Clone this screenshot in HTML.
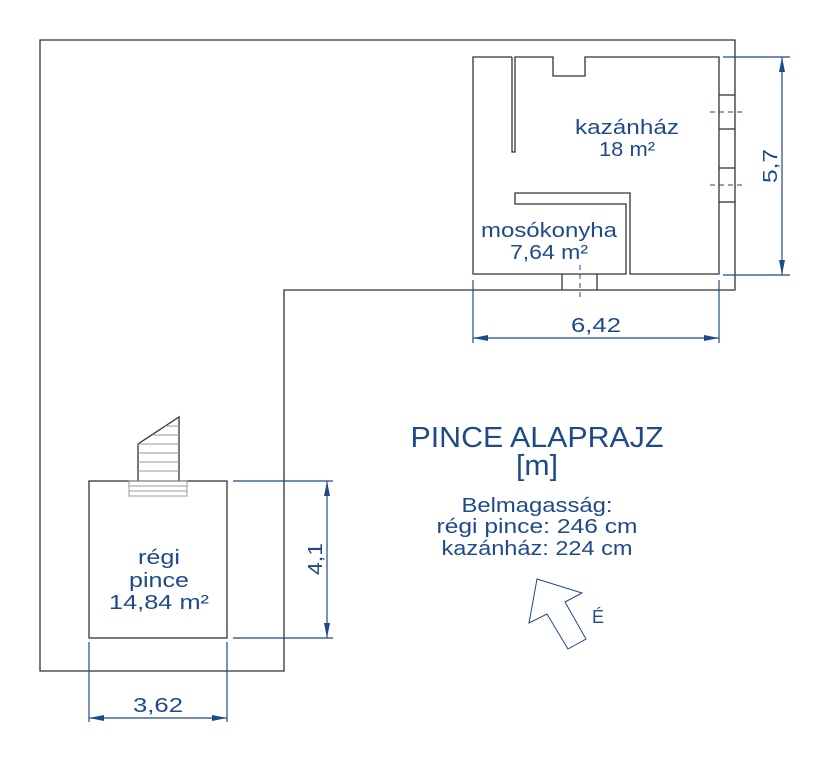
<!DOCTYPE html>
<html><head><meta charset="utf-8"><style>html,body{margin:0;padding:0;background:#fff}svg{display:block}text{font-family:"Liberation Sans",sans-serif;fill:#1f4a8a}</style></head><body>
<svg width="815" height="766" viewBox="0 0 815 766" xmlns="http://www.w3.org/2000/svg">
<g fill="none" stroke="#333" stroke-width="1.3">
<polygon points="40,40 735,40 735,290 284,290 284,671 40,671" fill="#fff"/>
<polyline points="512,57 473,57 473,274 626,274 626,204 515,204 515,193 630,193 630,274 719,274 719,57 585,57 585,76 553,76 553,57 515,57 515,152 512,152 512,57"/>
<line x1="719" y1="95" x2="735" y2="95"/><line x1="719" y1="129" x2="735" y2="129"/>
<line x1="719" y1="168" x2="735" y2="168"/><line x1="719" y1="202" x2="735" y2="202"/>
<line x1="562" y1="274" x2="562" y2="290"/><line x1="597" y1="274" x2="597" y2="290"/>
<rect x="89" y="481" width="138" height="157" fill="#fff"/>
<polyline points="138,481 138,444 179,417 179,481"/>
</g>
<g stroke="#999" stroke-width="1" fill="none">
<line x1="152" y1="435" x2="179" y2="435"/><line x1="138" y1="444" x2="179" y2="444"/>
<line x1="138" y1="453" x2="179" y2="453"/><line x1="138" y1="462" x2="179" y2="462"/><line x1="138" y1="471" x2="179" y2="471"/>
<line x1="165" y1="426" x2="179" y2="426"/>
<rect x="129" y="481" width="58" height="15"/><line x1="129" y1="486" x2="187" y2="486"/><line x1="129" y1="491" x2="187" y2="491"/>
</g>
<g stroke="#1f4a8a" stroke-width="1" stroke-dasharray="5,4" fill="none">
<line x1="710" y1="112" x2="746" y2="112"/><line x1="710" y1="185" x2="746" y2="185"/>
<line x1="580" y1="265" x2="580" y2="300"/>
</g>
<g stroke="#1f4a8a" stroke-width="1.2" fill="none">
<line x1="723" y1="57" x2="790" y2="57"/><line x1="723" y1="275" x2="790" y2="275"/><line x1="782" y1="57" x2="782" y2="275"/>
<line x1="473" y1="280" x2="473" y2="343"/><line x1="719" y1="280" x2="719" y2="343"/><line x1="473" y1="338" x2="719" y2="338"/>
<line x1="233" y1="481" x2="333" y2="481"/><line x1="233" y1="638" x2="333" y2="638"/><line x1="327" y1="481" x2="327" y2="638"/>
<line x1="89" y1="642" x2="89" y2="722"/><line x1="227" y1="642" x2="227" y2="722"/><line x1="89" y1="718" x2="227" y2="718"/>
<polygon points="537,579 582,593 565,602 586,639 568,649 547,614 529,623" stroke-width="1"/>
</g>
<g fill="#1f4a8a">
<polygon points="782,57 779,72 785,72"/><polygon points="782,275 779,260 785,260"/>
<polygon points="473,338 488,335 488,341"/><polygon points="719,338 704,335 704,341"/>
<polygon points="327,481 324,496 330,496"/><polygon points="327,638 324,623 330,623"/>
<polygon points="89,718 104,715 104,721"/><polygon points="227,718 212,715 212,721"/>
</g>
<g font-size="20" text-anchor="middle">
<text x="627" y="134" textLength="104" lengthAdjust="spacingAndGlyphs">kazánház</text><text x="627" y="156" textLength="56" lengthAdjust="spacingAndGlyphs">18 m²</text>
<text x="549" y="237" textLength="136" lengthAdjust="spacingAndGlyphs">mosókonyha</text><text x="549" y="259" textLength="78" lengthAdjust="spacingAndGlyphs">7,64 m²</text>
<text x="159" y="564" textLength="42" lengthAdjust="spacingAndGlyphs">régi</text><text x="159" y="587" textLength="60" lengthAdjust="spacingAndGlyphs">pince</text><text x="159" y="609" textLength="100" lengthAdjust="spacingAndGlyphs">14,84 m²</text>
<text x="596" y="332" textLength="50" lengthAdjust="spacingAndGlyphs">6,42</text><text x="158" y="712" textLength="50" lengthAdjust="spacingAndGlyphs">3,62</text>
<text transform="translate(777,166) rotate(-90)" textLength="34" lengthAdjust="spacingAndGlyphs">5,7</text>
<text transform="translate(322,559) rotate(-90)" textLength="32" lengthAdjust="spacingAndGlyphs">4,1</text>
<text x="598" y="623" font-size="18">É</text>
<text x="537" y="447" font-size="29" textLength="253" lengthAdjust="spacingAndGlyphs">PINCE ALAPRAJZ</text>
<text x="537" y="475" font-size="29" textLength="42" lengthAdjust="spacingAndGlyphs">[m]</text>
<text x="537" y="512" textLength="151" lengthAdjust="spacingAndGlyphs">Belmagasság:</text>
<text x="537" y="533" textLength="201" lengthAdjust="spacingAndGlyphs">régi pince: 246 cm</text>
<text x="537" y="555" textLength="191" lengthAdjust="spacingAndGlyphs">kazánház: 224 cm</text>
</g>
</svg>
</body></html>
